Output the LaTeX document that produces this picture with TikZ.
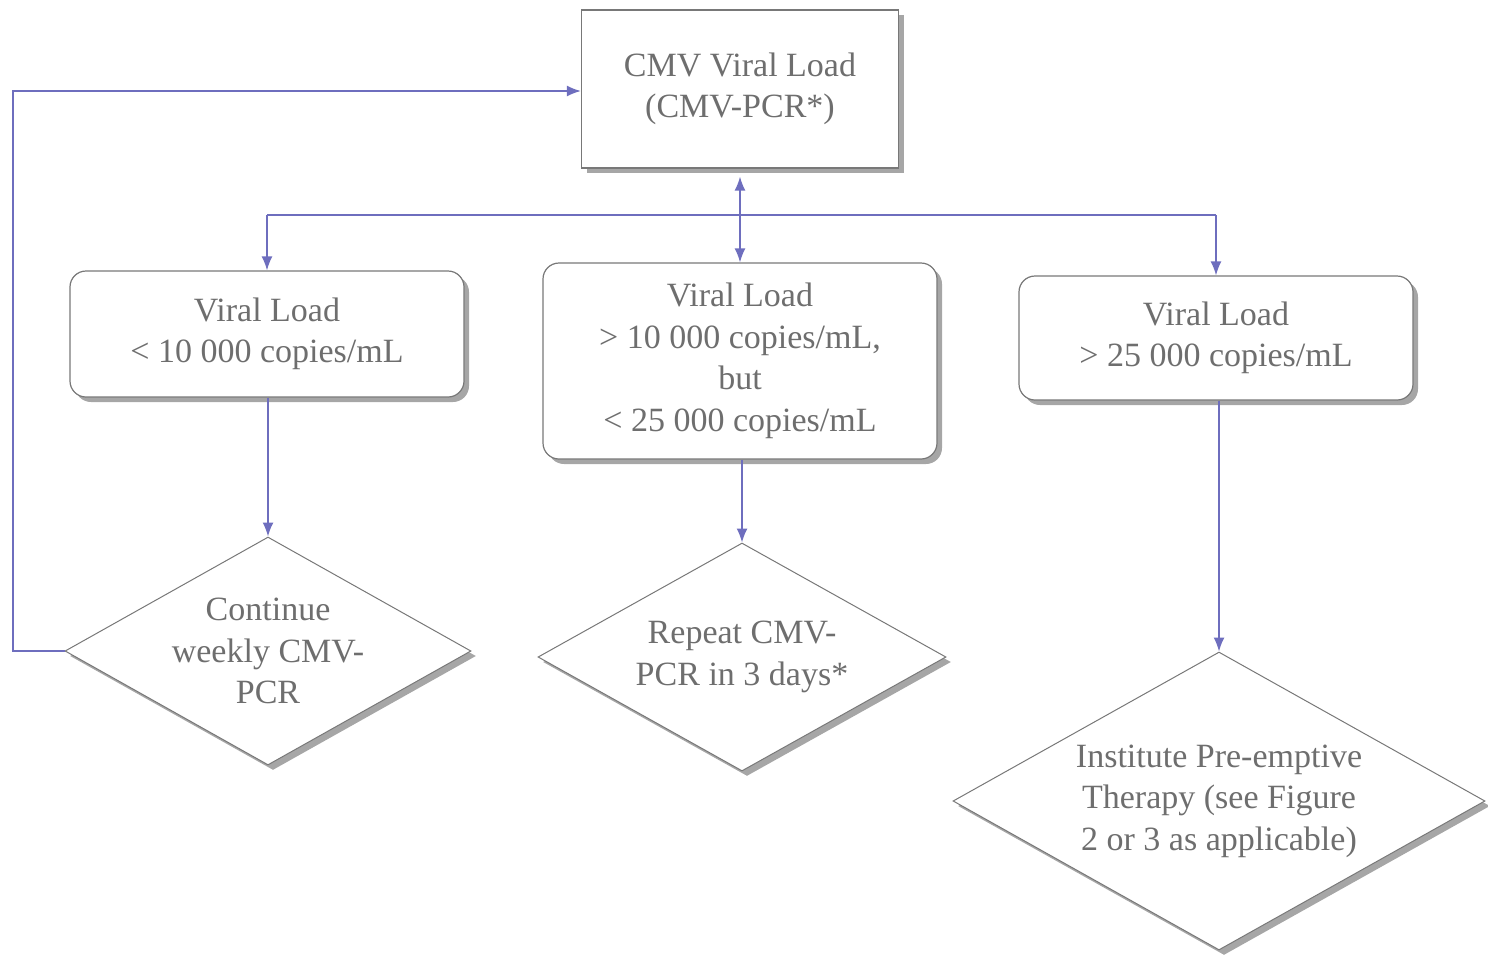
\documentclass[tikz,border=0pt]{standalone}
\usepackage{fontspec}
\setmainfont{Liberation Serif}
\usetikzlibrary{shapes.geometric,shadows,arrows.meta}
\definecolor{conn}{RGB}{110,110,190}
\definecolor{txt}{RGB}{110,110,110}
\definecolor{edge}{RGB}{120,120,120}
\begin{document}
\begin{tikzpicture}[x=0.5pt,y=-0.5pt,
  every node/.style={font=\fontsize{17}{20.8}\selectfont, text=txt, align=center, inner sep=0pt},
  shd/.style={drop shadow={shadow xshift=2.5pt,shadow yshift=-2.5pt,fill=black!35,opacity=1}},
  sqbox/.style={draw=edge, fill=white, line width=0.6pt, shd},
  rbox/.style={draw=edge, fill=white, line width=0.6pt, rounded corners=8pt, shd, minimum width=197pt},
  dia/.style={diamond, draw=edge, fill=white, line width=0.5pt, shd, aspect=1.78},
  link/.style={draw=conn, line width=0.8pt},
  tip/.style={-{Latex[length=7pt,width=5.5pt]}}]
\useasboundingbox (0,0) rectangle (1488,955);
\node[sqbox, minimum width=158.5pt, minimum height=79pt] (top) at (740,89) {CMV Viral Load\\(CMV-PCR*)};
\node[rbox, minimum height=63pt] (lb) at (267,334) {Viral Load\\< 10 000 copies/mL};
\node[rbox, minimum height=98pt] (mb) at (740,361) {Viral Load\\> 10 000 copies/mL,\\but\\< 25 000 copies/mL};
\node[rbox, minimum height=62pt] (rb) at (1216,338) {Viral Load\\> 25 000 copies/mL};
\node[dia, minimum width=203pt, minimum height=114pt] (ld) at (268,651) {Continue\\weekly CMV-\\PCR};
\node[dia, minimum width=204pt, minimum height=114pt] (md) at (742,657) {Repeat CMV-\\PCR in 3 days*};
\node[dia, minimum width=266pt, minimum height=149pt] (rd) at (1219,801) {Institute Pre-emptive\\Therapy (see Figure\\2 or 3 as applicable)};
\coordinate (jl) at (267,215);
\coordinate (jr) at (1216,215);
\coordinate (lp) at (13,91);
\draw[link] (jl) -- (jr);
\draw[link, tip] (jl) -- (lb.north);
\draw[link, tip] (jr) -- (rb.north);
\draw[link, {Latex[length=7pt,width=5.5pt]}-{Latex[length=7pt,width=5.5pt]}, shorten <=4pt] (top.south) -- (mb.north);
\draw[link, tip] (lb.south -| ld.north) -- (ld.north);
\draw[link, tip] (mb.south -| md.north) -- (md.north);
\draw[link, tip] (rb.south -| rd.north) -- (rd.north);
\draw[link, tip] (ld.west) -| (lp) -- (top.west |- lp);
\end{tikzpicture}
\end{document}
